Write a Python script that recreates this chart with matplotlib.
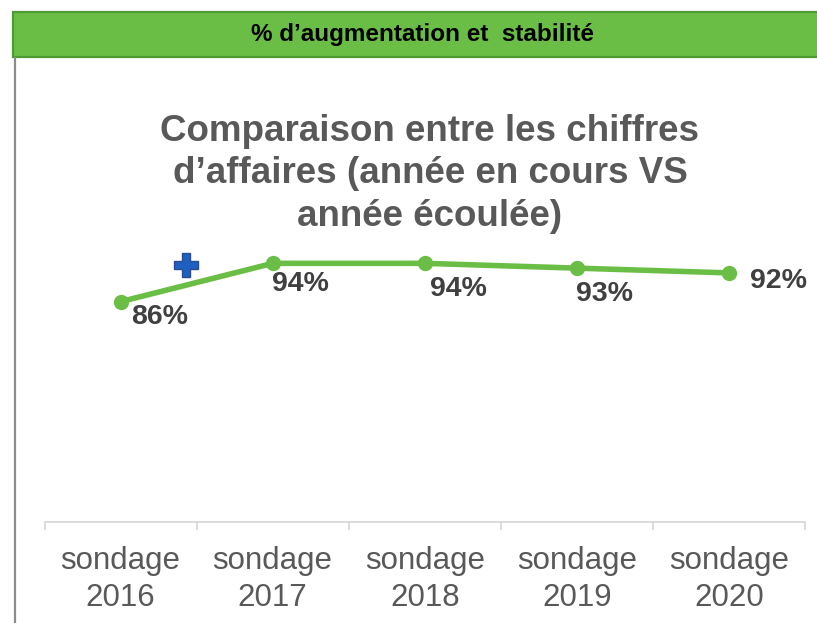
import matplotlib
matplotlib.use("Agg")
from matplotlib import pyplot as plt
from matplotlib.patches import Rectangle
from matplotlib.lines import Line2D

plt.rcParams['font.family'] = ['Liberation Sans', 'DejaVu Sans']

# data
categories = ["sondage\n2016", "sondage\n2017", "sondage\n2018", "sondage\n2019", "sondage\n2020"]
values = [86, 94, 94, 93, 92]
value_labels = ["86%", "94%", "94%", "93%", "92%"]
# label offsets (pixels) from each point, as placed in the original
label_dx = [39, 28, 34, 28, 50]
label_dy = [-15, -21, -26, -26, -8]

green = "#6BBE45"
grey_txt = "#595959"

W, H = 817, 623
fig = plt.figure(figsize=(W / 100, H / 100), dpi=100)

# green banner on top
banner = Rectangle((12.5 / W, 1 - 57 / H), (W + 10) / W, 45 / H, transform=fig.transFigure,
                   facecolor=green, edgecolor="#4F9A32", linewidth=1.6, clip_on=False)
fig.add_artist(banner)
fig.text(422 / W, 1 - 35 / H, "% d\u2019augmentation et  stabilit\u00e9", ha="center", va="center",
         fontsize=17.5, fontweight="bold", color="black")

# grey vertical line at left
fig.add_artist(Line2D([15 / W, 15 / W], [0, 1 - 58 / H], transform=fig.transFigure,
                      color="#8C8C8C", linewidth=1.6))

# title
fig.text(430 / W, 1 - 114 / H,
         "Comparaison entre les chiffres\nd\u2019affaires (ann\u00e9e en cours VS\nann\u00e9e \u00e9coul\u00e9e)",
         ha="center", va="top", fontsize=26.5, fontweight="bold", color=grey_txt, linespacing=1.27)

ax = fig.add_axes([44.5 / W, 1 - 522 / H, 760.5 / W, 287.4 / H])
x = list(range(len(values)))
ax.plot(x, values, color=green, linewidth=4, marker="o", markersize=10, solid_capstyle="round")
for i, (v, lab) in enumerate(zip(values, value_labels)):
    ax.annotate(lab, (i, v), xytext=(label_dx[i], label_dy[i]), textcoords="offset pixels",
                ha="center", va="center", fontsize=20.5, fontweight="bold", color="#404040")

ax.set_xlim(-0.5, len(values) - 0.5)
ax.set_ylim(40, 100)
ax.set_yticks([])
for s in ["top", "right", "left"]:
    ax.spines[s].set_visible(False)
ax.spines["bottom"].set_color("#D9D9D9")
ax.spines["bottom"].set_linewidth(1.3)
ax.set_xticks(x)
ax.set_xticklabels(categories, fontsize=22.5, color=grey_txt, linespacing=1.32)
ax.tick_params(axis="x", which="major", length=0, pad=17)
ax.set_xticks([i - 0.5 for i in range(len(values) + 1)], minor=True)
ax.tick_params(axis="x", which="minor", length=6, width=1.3, color="#D9D9D9")

# blue plus icon
fig.add_artist(Line2D([185.5 / W], [1 - 264.5 / H], transform=fig.transFigure, marker="P",
                      markersize=17, markerfacecolor="#1F5FBF", markeredgecolor="#2B4C94",
                      markeredgewidth=1.0, linestyle="none"))

fig.savefig("out.png", dpi=100)
